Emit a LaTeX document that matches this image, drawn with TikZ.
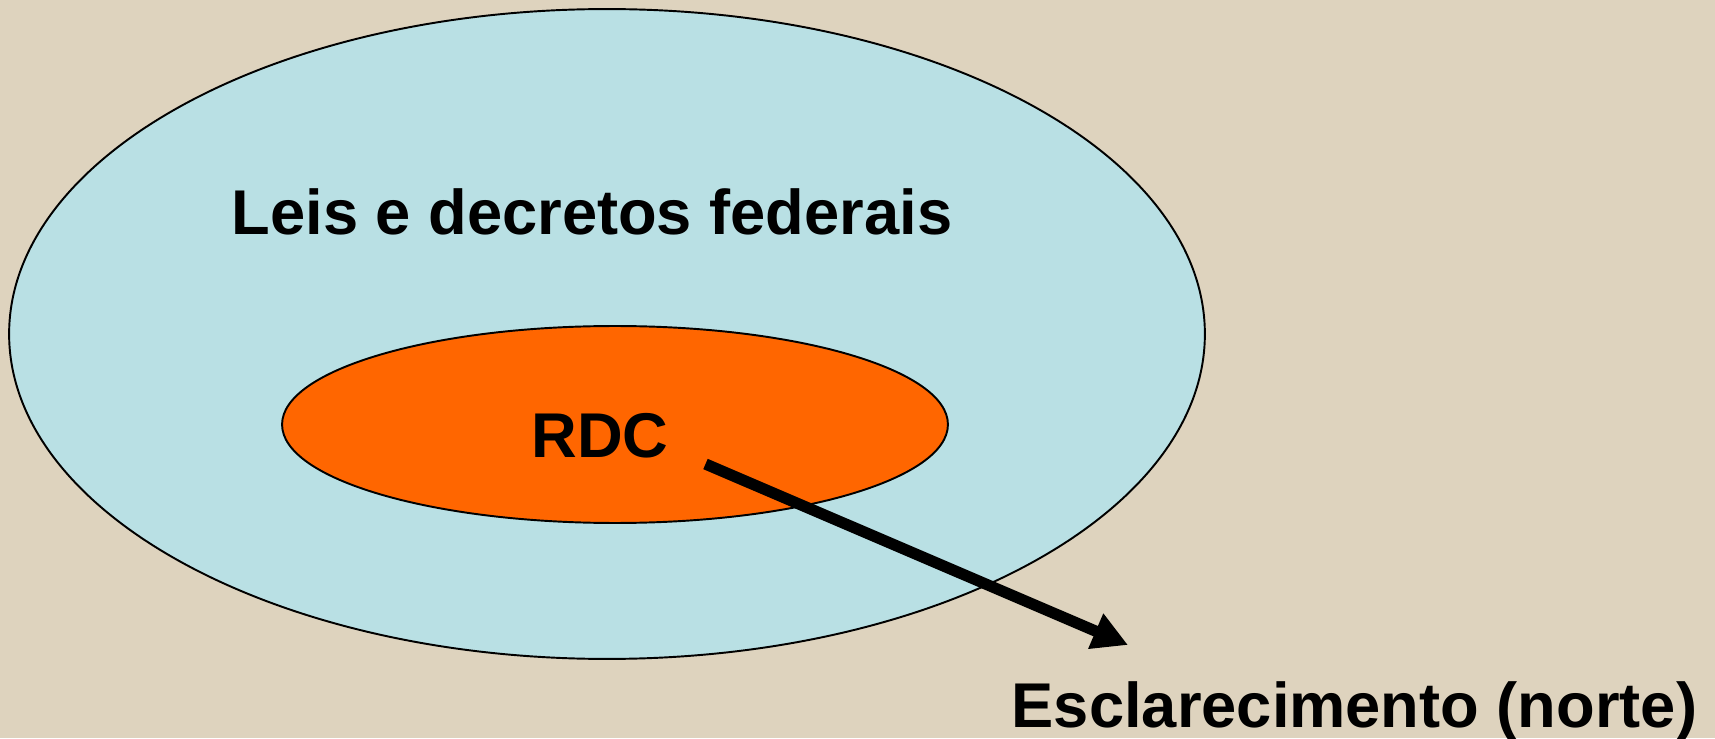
\documentclass[tikz,border=0pt]{standalone}
\usepackage{fontspec}
\setmainfont{Liberation Sans}
\usetikzlibrary{arrows.meta}
\definecolor{bg}{RGB}{222,211,190}
\definecolor{sky}{RGB}{185,224,228}
\definecolor{rdcorange}{RGB}{255,102,0}
\begin{document}
\begin{tikzpicture}[x=0.02cm,y=0.02cm,
    lbl/.style={inner sep=0,anchor=base,font=\fontsize{36}{43}\selectfont\bfseries}]
      \fill[bg] (0,0) rectangle (1715,738);
      \useasboundingbox (0,0) rectangle (1715,738);
      \filldraw[fill=sky,line width=1.1pt] (607,404) ellipse [x radius=11.96cm, y radius=6.5cm];
      \filldraw[fill=rdcorange,line width=1.1pt] (615,313.5) ellipse [x radius=6.66cm, y radius=1.97cm];
      \draw
        (592,503) node[lbl] (leis){Leis e decretos federais}
        (600,281) node[lbl] (rdc){RDC}
        (1354.5,11) node[lbl] (escl){Esclarecimento (norte)};
      \coordinate (a) at (705.5,274);
      \coordinate (b) at (1128,93);
      \begin{scope}[-{Triangle[length=20pt,width=20.5pt]}]
        \draw[line width=6.4pt] (a) to (b);
      \end{scope}
    \end{tikzpicture}
\end{document}
